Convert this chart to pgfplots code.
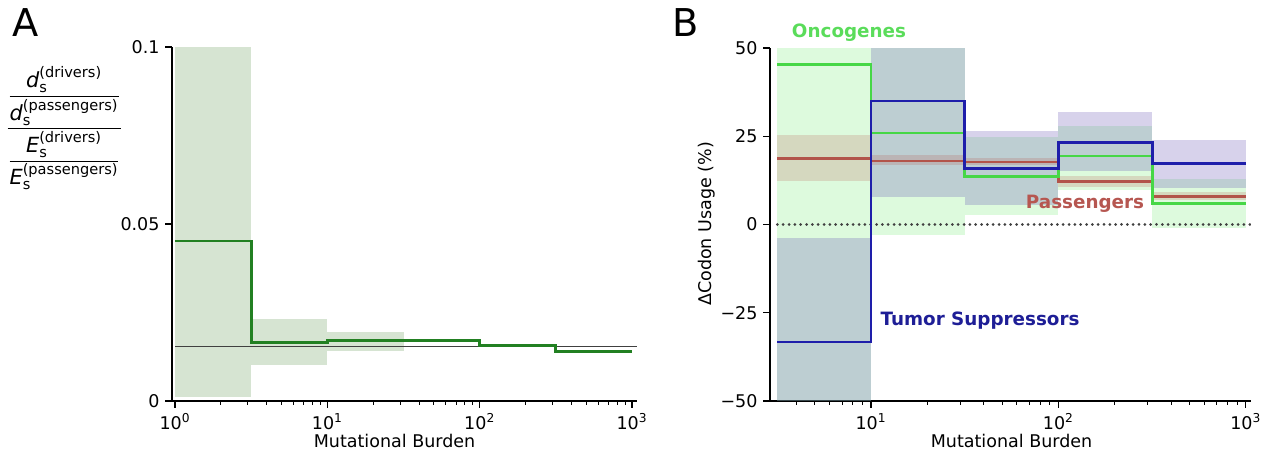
\documentclass[border=0pt]{standalone}
\usepackage{amsmath}
\usepackage{fontspec}
\setmainfont{DejaVu Sans}
\usepackage{pgfplots}
\pgfplotsset{compat=1.18}

\definecolor{lgreenline}{RGB}{34,128,34}
\definecolor{lgreenband}{RGB}{214,228,210}
\definecolor{ogreen}{RGB}{70,215,70}
\definecolor{oband}{RGB}{144,238,144}
\definecolor{tblue}{RGB}{30,30,170}
\definecolor{tband}{RGB}{95,75,175}
\definecolor{pred}{RGB}{178,84,74}
\definecolor{pband}{RGB}{180,80,70}
\definecolor{olabel}{RGB}{90,220,90}
\definecolor{plabel}{RGB}{182,86,80}
\definecolor{tlabel}{RGB}{30,30,150}

\newcommand{\band}[5]{\addplot[#1] coordinates {(#2,#4) (#3,#4) (#3,#5) (#2,#5)};}

\pgfplotsset{
  mystyle/.style={
    scale only axis,
    axis lines*=left,
    axis line style={line width=1pt,black},
    tick align=outside,
    tick style={black,line width=0.8pt},
    major tick length=4pt,
    minor tick length=2.2pt,
    minor tick style={line width=0.6pt},
    tick label style={font=\fontsize{10.5}{12}\selectfont},
  }
}

\begin{document}
\begin{tikzpicture}
\begin{scope}[x=0.6pt,y=-0.6pt]
\useasboundingbox (0,0) rectangle (1269,454);
\end{scope}

% ---------------- Panel A ----------------
\begin{semilogxaxis}[mystyle,
  at={(103.2pt,-240.6pt)}, anchor=south west,
  width=279pt, height=212.4pt,
  xmin=0.9556, xmax=1078.5, ymin=0, ymax=0.1,
  xtick={1,10,100,1000},
  xticklabels={10\textsuperscript{0},10\textsuperscript{1},10\textsuperscript{2},10\textsuperscript{3}},
  minor xtick={2,3,4,5,6,7,8,9,20,30,40,50,60,70,80,90,200,300,400,500,600,700,800,900},
  ytick={0,0.05,0.1}, yticklabels={0,0.05,0.1},
]
\band{draw=none,fill=lgreenband}{1}{3.162}{0.0012}{0.1}
\band{draw=none,fill=lgreenband}{3.162}{10}{0.0102}{0.0232}
\band{draw=none,fill=lgreenband}{10}{31.62}{0.0142}{0.0196}
\addplot[color=black!75, line width=0.6pt] coordinates {(1,0.01535) (1078.5,0.01535)};
\addplot[const plot, color=lgreenline, line width=1.7pt] coordinates {
 (1,0.0452) (3.162,0.0165) (10,0.0170) (31.62,0.0170) (100,0.0157) (316.2,0.0140) (1000,0.0140)};
\end{semilogxaxis}

% ---------------- Panel B ----------------
\begin{semilogxaxis}[mystyle,
  at={(462pt,-240.6pt)}, anchor=south west,
  width=288.6pt, height=211.8pt,
  xmin=2.89, xmax=1066, ymin=-50, ymax=50,
  xtick={10,100,1000},
  xticklabels={10\textsuperscript{1},10\textsuperscript{2},10\textsuperscript{3}},
  minor xtick={4,5,6,7,8,9,20,30,40,50,60,70,80,90,200,300,400,500,600,700,800,900},
  ytick={-50,-25,0,25,50}, yticklabels={−50,−25,0,25,50},
]
% oncogene bands
\band{draw=none,fill=oband,fill opacity=0.3}{3.162}{10}{-50}{50}
\band{draw=none,fill=oband,fill opacity=0.3}{10}{31.62}{-3.0}{50}
\band{draw=none,fill=oband,fill opacity=0.3}{31.62}{100}{2.6}{24.8}
\band{draw=none,fill=oband,fill opacity=0.3}{100}{316.2}{9.7}{27.9}
\band{draw=none,fill=oband,fill opacity=0.3}{316.2}{1000}{-1.0}{13.0}
% tumor suppressor bands
\band{draw=none,fill=tband,fill opacity=0.25}{3.162}{10}{-50}{-3.8}
\band{draw=none,fill=tband,fill opacity=0.25}{10}{31.62}{7.8}{50}
\band{draw=none,fill=tband,fill opacity=0.25}{31.62}{100}{5.5}{26.4}
\band{draw=none,fill=tband,fill opacity=0.25}{100}{316.2}{15.1}{31.9}
\band{draw=none,fill=tband,fill opacity=0.25}{316.2}{1000}{10.4}{23.9}
% passenger bands
\band{draw=none,fill=pband,fill opacity=0.2}{3.162}{10}{12.3}{25.3}
\band{draw=none,fill=pband,fill opacity=0.2}{10}{31.62}{16.8}{19.6}
\band{draw=none,fill=pband,fill opacity=0.2}{31.62}{100}{16.8}{18.8}
\band{draw=none,fill=pband,fill opacity=0.2}{100}{316.2}{10.5}{13.7}
\band{draw=none,fill=pband,fill opacity=0.2}{316.2}{1000}{6.8}{9.3}
% zero line
\addplot[color=black!75, line width=1.8pt, line cap=round, dash pattern=on 0pt off 3.5pt] coordinates {(3.162,0) (1066,0)};
% lines
\addplot[const plot, color=pred, line width=1.7pt] coordinates {
 (3.162,18.6) (10,18.0) (31.62,17.7) (100,12.1) (316.2,8.0) (1000,8.0)};
\addplot[const plot, color=ogreen, line width=1.7pt] coordinates {
 (3.162,45.4) (10,25.9) (31.62,13.5) (100,19.4) (316.2,5.9) (1000,5.9)};
\addplot[const plot, color=tblue, line width=1.7pt] coordinates {
 (3.162,-33.3) (10,35.0) (31.62,15.9) (100,23.2) (316.2,17.3) (1000,17.3)};
\end{semilogxaxis}

\begin{scope}[x=0.6pt,y=-0.6pt]
\node[font=\fontsize{23}{26}\selectfont] at (26,23) {A};
\node[font=\fontsize{23}{26}\selectfont] at (686,23) {B};
\node[font=\fontsize{12.5}{15}\selectfont] at (64,128) {$\dfrac{\dfrac{\text{\textit{d}}_{\text{s}}^{\text{(drivers)}}}{\text{\textit{d}}_{\text{s}}^{\text{(passengers)}}}}{\dfrac{\text{\textit{E}}_{\text{s}}^{\text{(drivers)}}}{\text{\textit{E}}_{\text{s}}^{\text{(passengers)}}}}$};
\node[font=\fontsize{10.5}{12}\selectfont] at (394.5,441) {Mutational Burden};
\node[font=\fontsize{10.5}{12}\selectfont] at (1011.5,441) {Mutational Burden};
\node[rotate=90,font=\fontsize{10.5}{12}\selectfont] at (707,224) {ΔCodon Usage (\%)};
\node[font=\fontsize{11}{13}\bfseries, text=olabel] at (849,33) {Oncogenes};
\node[font=\fontsize{11}{13}\bfseries, text=plabel] at (1085,204) {Passengers};
\node[font=\fontsize{11}{13}\bfseries, text=tlabel] at (980,321) {Tumor Suppressors};
\end{scope}
\end{tikzpicture}
\end{document}
